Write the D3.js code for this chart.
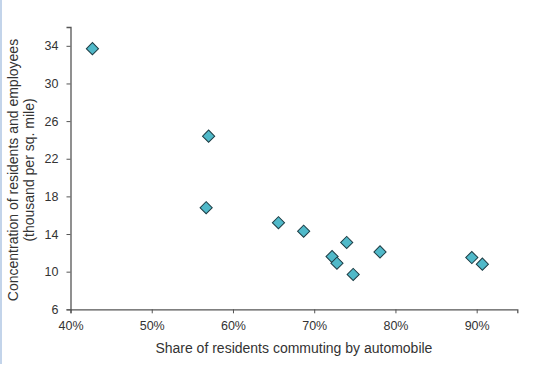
<!DOCTYPE html>
<html>
<head>
<meta charset="utf-8">
<script src="https://cdn.jsdelivr.net/npm/d3@7"></script>
<style>
  html, body { margin: 0; padding: 0; background: #fff; }
  svg { display: block; }
</style>
</head>
<body>
<svg id="chart" width="541" height="378"></svg>
<script>
// Data
const autoShare = [0.427, 0.570, 0.567, 0.656, 0.687, 0.740, 0.722, 0.728, 0.748, 0.781, 0.894, 0.907];
const density   = [33.7, 24.4, 16.8, 15.2, 14.3, 13.1, 11.6, 10.9, 9.7, 12.1, 11.5, 10.8];
const xTicks = [0.4, 0.5, 0.6, 0.7, 0.8, 0.9];
const yTicks = [6, 10, 14, 18, 22, 26, 30, 34];
const xTitle = "Share of residents commuting by automobile";
const yTitle = ["Concentration of residents and employees", "(thousand per sq. mile)"];

const svg = d3.select("#chart");
const mLeft = 70.5, mRight = 517.3, mTop = 27, mBottom = 309.3;

// left light-blue border
svg.append("line")
  .attr("x1", 1).attr("x2", 1).attr("y1", 0).attr("y2", 364)
  .attr("stroke", "#c3d4ea").attr("stroke-width", 2);

const x = d3.scaleLinear().domain([0.40, 0.95]).range([mLeft, mRight]);
const y = d3.scaleLinear().domain([6, 36]).range([mBottom, mTop]);

const axisColor = "#555";
const font = "'Liberation Sans', Arial, sans-serif";

const xAxis = svg.append("g")
  .attr("transform", `translate(0,${mBottom})`)
  .call(d3.axisBottom(x).tickValues(xTicks).tickFormat(d3.format(".0%")).tickSizeOuter(0).tickSize(4).tickPadding(8));
const yAxis = svg.append("g")
  .attr("transform", `translate(${mLeft},0)`)
  .call(d3.axisLeft(y).tickValues(yTicks).tickSizeOuter(0).tickSize(4).tickPadding(8));

[xAxis, yAxis].forEach(g => {
  g.select(".domain").attr("stroke", axisColor).attr("stroke-width", 1.3);
  g.selectAll(".tick line").attr("stroke", axisColor);
  g.selectAll(".tick text").attr("fill", "#333").style("font-family", font).style("font-size", "12.5px");
});

// Points
const pts = autoShare.map((v, i) => ({ x: v, y: density[i] }));
const sym = d3.symbol().type(d3.symbolSquare).size(74);
svg.append("g").selectAll("path")
  .data(pts)
  .join("path")
  .attr("d", sym)
  .attr("transform", d => `translate(${x(d.x)},${y(d.y)}) rotate(45)`)
  .attr("fill", "#50b9c9")
  .attr("stroke", "#1d3c44")
  .attr("stroke-width", 1);

// Axis titles
svg.append("text")
  .attr("x", (mLeft + mRight) / 2).attr("y", 353)
  .attr("text-anchor", "middle")
  .attr("fill", "#333")
  .style("font-family", font).style("font-size", "14px")
  .text(xTitle);

const yt = svg.append("text")
  .attr("transform", `translate(18,170) rotate(-90)`)
  .attr("text-anchor", "middle")
  .attr("fill", "#333")
  .style("font-family", font).style("font-size", "14px");
yTitle.forEach((t, i) => {
  yt.append("tspan").attr("x", 0).attr("dy", i === 0 ? 0 : 16).text(t);
});
</script>
</body>
</html>
